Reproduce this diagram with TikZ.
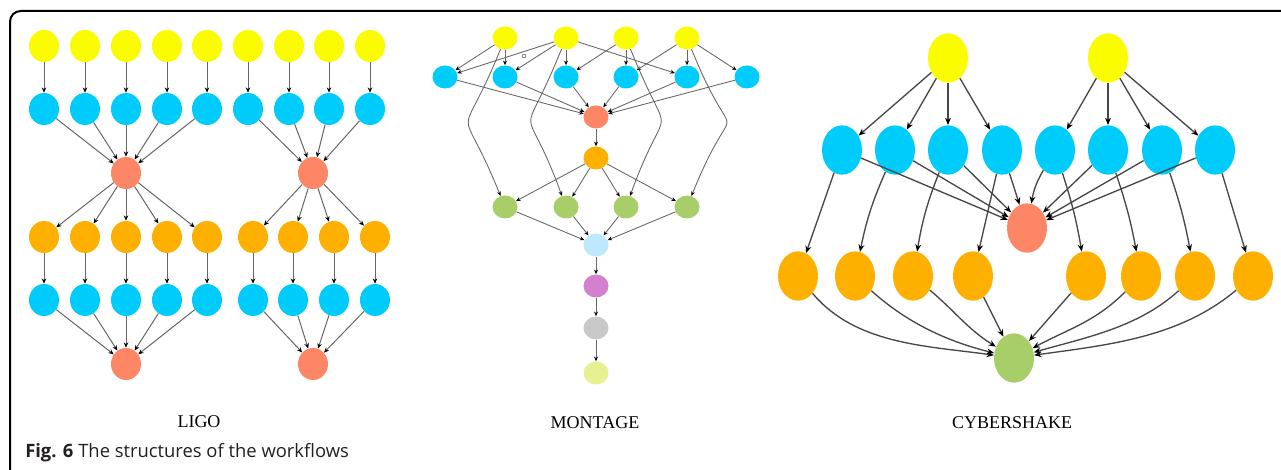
\documentclass[tikz,border=0pt]{standalone}
\usepackage{fontspec}
\setmainfont{Liberation Serif}
\newfontfamily\capfont{Open Sans}
\usetikzlibrary{shapes.geometric,arrows.meta}
\definecolor{cyel}{HTML}{FCFC00}
\definecolor{cblue}{HTML}{00CCFC}
\definecolor{csal}{HTML}{FC8666}
\definecolor{corg}{HTML}{FDB000}
\definecolor{cgrn}{HTML}{A8CE6A}
\definecolor{clblue}{HTML}{BEE8FC}
\definecolor{cpur}{HTML}{D580CF}
\definecolor{cgry}{HTML}{C8C9C8}
\definecolor{clyel}{HTML}{E6F191}
\definecolor{ctext}{HTML}{231F20}
\begin{document}
\begin{tikzpicture}[x=0.75pt,y=-0.75pt,
  lnode/.style={ellipse,minimum width=22.5pt,minimum height=24pt,inner sep=0pt,draw=none},
  mnode/.style={ellipse,minimum width=18.75pt,minimum height=17.25pt,inner sep=0pt,draw=none},
  cnode/.style={ellipse,minimum width=30pt,minimum height=37pt,inner sep=0pt,draw=none},
  larr/.style={draw=black!60,line width=0.75pt,-{Stealth[length=4pt,width=3.4pt,color=black]}},
  marr/.style={draw=black!60,line width=0.65pt,-{Stealth[length=3.5pt,width=3pt,color=black]}},
  carr/.style={draw=black!72,line width=1pt,-{Stealth[length=5.5pt,width=4.4pt,color=black]}},
  title/.style={font=\fontsize{13.5}{15}\selectfont,text=black,anchor=base,inner sep=0pt}]
\useasboundingbox (0,0) rectangle (1281,470);
% frame
\draw[line width=1.5pt,rounded corners=8pt] (1281,11) -- (10,11) -- (10,470);

% ---------------- LIGO ----------------
\foreach \x [count=\i] in {44,85,126,167,207,248,289,329,370}{
  \node[lnode,fill=cyel] (ly\i) at (\x,46) {};
  \node[lnode,fill=cblue] (lb\i) at (\x,109) {};
  \draw[larr] (ly\i) -- (lb\i);
}
\node[lnode,fill=csal] (ls1) at (126,173) {};
\node[lnode,fill=csal] (ls2) at (313,173) {};
\foreach \i in {1,...,5} \draw[larr] (lb\i) -- (ls1);
\foreach \i in {6,...,9} \draw[larr] (lb\i) -- (ls2);
\foreach \x [count=\i] in {44,85,126,167,207,253,293,334,375}{
  \node[lnode,fill=corg] (lo\i) at (\x,237) {};
  \node[lnode,fill=cblue] (lc\i) at (\x,300) {};
  \draw[larr] (lo\i) -- (lc\i);
}
\foreach \i in {1,...,5} \draw[larr] (ls1) -- (lo\i);
\foreach \i in {6,...,9} \draw[larr] (ls2) -- (lo\i);
\node[lnode,fill=csal] (lt1) at (126,364) {};
\node[lnode,fill=csal] (lt2) at (313,364) {};
\foreach \i in {1,...,5} \draw[larr] (lc\i) -- (lt1);
\foreach \i in {6,...,9} \draw[larr] (lc\i) -- (lt2);
\node[title] (ligo) at (199,427) {LIGO};

% ---------------- MONTAGE ----------------
\foreach \x [count=\i] in {505,566,626,687}{
  \node[mnode,fill=cyel] (my\i) at (\x,38) {};
  \node[mnode,fill=cgrn] (mg\i) at (\x,207) {};
}
\foreach \x [count=\i] in {445,505,566,626,687,747}{
  \node[mnode,fill=cblue] (mb\i) at (\x,77) {};
}
\node[mnode,fill=csal] (ms) at (596,117) {};
\node[mnode,fill=corg] (mo) at (596,158) {};
\node[mnode,fill=clblue] (mlb) at (596,245) {};
\node[mnode,fill=cpur] (mp) at (596,286) {};
\node[mnode,fill=cgry] (mgr) at (596,328) {};
\node[mnode,fill=clyel] (mly) at (596,373) {};
\foreach \a/\b in {1/1,1/2,2/1,2/2,2/3,2/5,3/3,3/4,4/4,4/5,4/6}
  \draw[marr] (my\a) -- (mb\b);
\draw[marr] (my1) to[out=-112,in=112,looseness=2] (mg1);
\draw[marr] (my2) to[out=-112,in=110,looseness=2] (mg2);
\draw[marr] (my3) to[out=-68,in=70,looseness=2] (mg3);
\draw[marr] (my4) to[out=-68,in=68,looseness=2.2] (mg4);
\foreach \i in {1,...,6} \draw[marr] (mb\i) -- (ms);
\draw[marr] (ms) -- (mo);
\foreach \i in {1,...,4}{
  \draw[marr] (mo) -- (mg\i);
  \draw[marr] (mg\i) -- (mlb);
}
\draw[marr] (mlb) -- (mp);
\draw[marr] (mp) -- (mgr);
\draw[marr] (mgr) -- (mly);
\draw[black!45,line width=0.3pt] (522.5,54.5) rectangle (525.5,57.5);
\node[title] (montage) at (595,428) {MONTAGE};

% ---------------- CYBERSHAKE ----------------
\node[cnode,fill=cyel] (cy1) at (948,58) {};
\node[cnode,fill=cyel] (cy2) at (1108,58) {};
\node[cnode,fill=csal] (cs) at (1027,228) {};
\node[cnode,fill=cgrn] (cg) at (1014,358) {};
\foreach \x [count=\i] in {842,895,948,1002,1055,1108,1162,1215}{
  \node[cnode,fill=cblue] (cb\i) at (\x,150) {};
}
\foreach \x [count=\i] in {798,855,913,973,1086,1141,1195,1253}{
  \node[cnode,fill=corg] (co\i) at (\x,276) {};
}
\foreach \i in {1,...,4} \draw[carr] (cy1) -- (cb\i);
\foreach \i in {5,...,8} \draw[carr] (cy2) -- (cb\i);
\foreach \i in {1,2,3,4,6,7,8} \draw[carr] (cb\i) -- (cs);
\draw[carr] (cb5) to[out=-120,in=80] (cs);
\draw[carr] (cb1) -- (co1);
\draw[carr] (cb2) to[bend right=6] (co2);
\draw[carr] (cb3) to[bend right=6] (co3);
\draw[carr] (cb4) -- (co4);
\draw[carr] (cb5) to[bend left=4] (co5);
\draw[carr] (cb6) to[bend left=4] (co6);
\draw[carr] (cb7) to[bend left=4] (co7);
\draw[carr] (cb8) -- (co8);
\draw[carr] (co1) to[out=-50,in=172,looseness=0.9] (cg);
\draw[carr] (co2) to[out=-42,in=166,looseness=0.9] (cg);
\draw[carr] (co3) to[out=-40,in=148] (cg);
\draw[carr] (co4) -- (cg);
\draw[carr] (co5) -- (cg);
\draw[carr] (co6) to[out=-135,in=28] (cg);
\draw[carr] (co7) to[out=-138,in=16,looseness=0.9] (cg);
\draw[carr] (co8) to[out=-140,in=8,looseness=0.9] (cg);
\node[title] (cyber) at (1012,428) {CYBERSHAKE};

% caption
\node[anchor=base west,inner sep=0pt,text=ctext,font=\capfont\fontsize{13.8}{16}\selectfont] (cap) at (25,457) {\textbf{Fig. 6} The structures of the workflows};
\end{tikzpicture}
\end{document}
